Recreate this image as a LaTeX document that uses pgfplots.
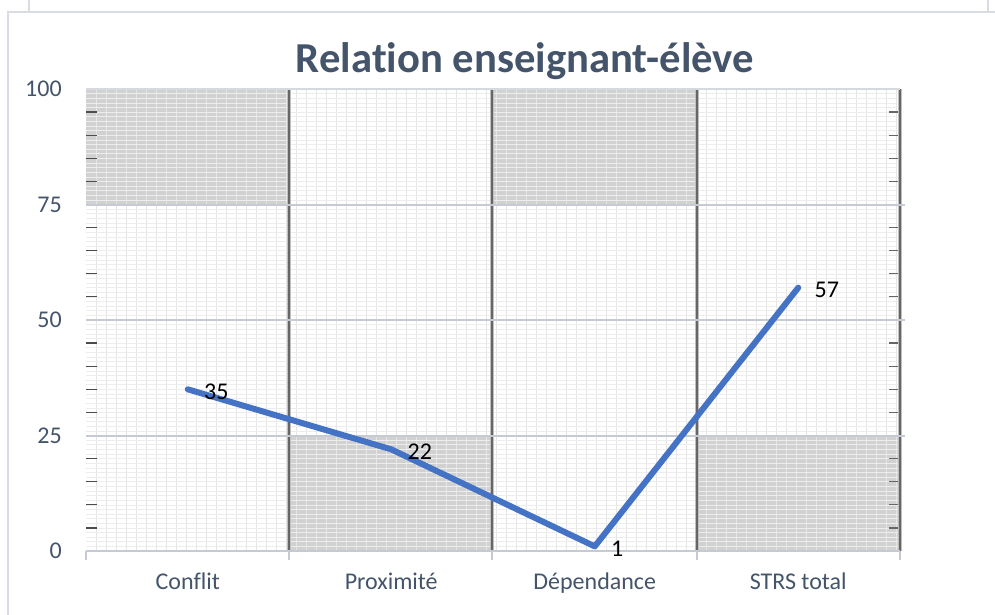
\documentclass[border=0pt]{standalone}
\usepackage{fontspec}
\setmainfont{Carlito}[Ligatures=NoCommon]
\usepackage{pgfplots}
\pgfplotsset{compat=1.18}
\definecolor{linblue}{HTML}{4472C4}
\definecolor{txtgray}{HTML}{44546A}
\definecolor{gridgray}{HTML}{C5CAD3}
\definecolor{framegray}{HTML}{D9DDE3}
\begin{document}
\begin{tikzpicture}[x=0.75pt,y=0.75pt]
\path[use as bounding box] (0,0) rectangle (995,614);
% outer frames
\draw[framegray, line width=1.5pt] (8,-5) -- (8,602) -- (1000,602);
\draw[framegray, line width=1.2pt] (29,614) -- (29,602) (988,614) -- (988,602);
% shaded blocks of the scanned background
\fill[black!18] (86,409) rectangle (289,525);
\fill[black!18] (492,409) rectangle (697,525);
\fill[black!18] (289,63) rectangle (492,178);
\fill[black!18] (697,63) rectangle (900,178);
% fine scan texture
\foreach \x in {96,106,...,896} \draw[black!10, line width=0.4pt] (\x,63) -- (\x,525);
\foreach \y [evaluate=\y as \yy using 63+4.62*\y] in {0,...,100}
  \draw[black!7, line width=0.4pt] (86,\yy) -- (900,\yy);
% small ticks on both edges
\foreach \y [evaluate=\y as \yy using 63+4.62*\y] in {5,10,...,100} {
  \draw[black!70, line width=0.9pt] (86,\yy) -- (97,\yy);
  \draw[black!60, line width=0.9pt] (889,\yy) -- (900,\yy);
}
% dark column borders
\foreach \x in {289,492,697,900} {
  \draw[black!25, line width=3.5pt] (\x,63) -- (\x,525);
  \draw[black!60, line width=1.5pt] (\x,63) -- (\x,525);
}
% horizontal grid lines
\foreach \y in {178,294,409}
  \draw[gridgray, line width=1.6pt] (86,\y) -- (905,\y);
\draw[gridgray!70, line width=1pt] (86,525) -- (900,525);
\draw[gridgray, line width=1.6pt] (86,63) -- (900,63);
\foreach \x in {86,289,492,697,900}
  \draw[gridgray, line width=1.2pt] (\x,63) -- (\x,54);
% title
\node[txtgray, font=\fontsize{32}{32}\selectfont\bfseries] at (525,553) {Relation enseignant-élève};
\begin{axis}[
    at={(64.5pt,47.25pt)}, anchor=south west,
    scale only axis,
    width=610.5pt, height=346.5pt,
    xmin=-0.5, xmax=3.5, ymin=0, ymax=100,
    axis line style={draw=none},
    major tick length=0pt,
    xtick={0,1,2,3},
    xticklabels={Conflit, Proximité, Dépendance, STRS total},
    ytick={0,25,50,75,100},
    /pgf/number format/assume math mode=true,
    ticklabel style={txtgray, font=\fontsize{18}{18}\selectfont},
    yticklabel style={anchor=east, inner sep=0pt, xshift=-18pt},
    xticklabel style={anchor=north, inner sep=0pt, yshift=-16pt},
    clip=false,
]
\addplot[linblue, line width=4.5pt, line join=round, line cap=round, mark=none,
    nodes near coords,
    every node near coord/.append style={anchor=west, inner sep=0pt, xshift=10pt, yshift=-2pt,
        text=black, font=\fontsize{18}{18}\selectfont}]
coordinates {(0,35) (1,22) (2,1) (3,57)};
\end{axis}
\end{tikzpicture}
\end{document}
